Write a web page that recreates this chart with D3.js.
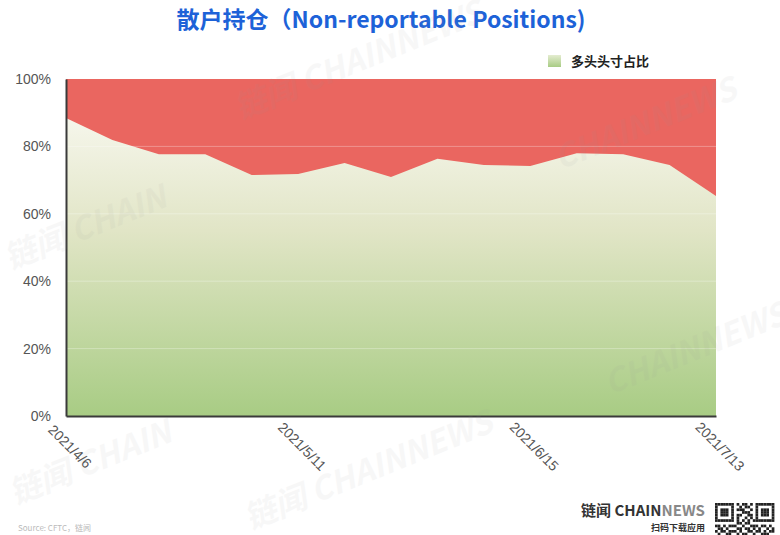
<!DOCTYPE html>
<html><head><meta charset="utf-8">
<script src="https://cdn.jsdelivr.net/npm/d3@7"></script>
<style>
html,body{margin:0;padding:0;background:#fff;}
svg{display:block;font-family:"Noto Sans CJK SC","Noto Sans",Arial,sans-serif;}
</style></head>
<body><svg id="c" width="780" height="535"></svg>
<script>
const dates = ["2021/4/6","2021/4/13","2021/4/20","2021/4/27","2021/5/4","2021/5/11","2021/5/18","2021/5/25","2021/6/1","2021/6/8","2021/6/15","2021/6/22","2021/6/29","2021/7/6","2021/7/13"];
const longShare = [88.4, 81.9, 77.7, 77.7, 71.5, 71.8, 75.1, 70.9, 76.3, 74.5, 74.2, 78.0, 77.7, 74.5, 65.3];
const shownDates = ["2021/4/6","2021/5/11","2021/6/15","2021/7/13"];
const yTicks = [0, 20, 40, 60, 80, 100];
const title = "散户持仓（Non-reportable Positions)";
const legendLabel = "多头头寸占比";

const svg = d3.select("#c");
const m = {l:66, r:716, t:79, b:416};
const x = d3.scalePoint().domain(dates).range([m.l, m.r]);
const y = d3.scaleLinear().domain([0,100]).range([m.b, m.t]);

const defs = svg.append("defs");
const g1 = defs.append("linearGradient").attr("id","gG").attr("gradientUnits","userSpaceOnUse")
  .attr("x1",0).attr("x2",0).attr("y1",y(100)).attr("y2",y(0));
g1.append("stop").attr("offset","0%").attr("stop-color","#fdfcf8");
g1.append("stop").attr("offset","45%").attr("stop-color","#e1e5c6");
g1.append("stop").attr("offset","100%").attr("stop-color","#a8cc84");
const g2 = defs.append("linearGradient").attr("id","gL").attr("x1",0).attr("x2",0).attr("y1",0).attr("y2",1);
g2.append("stop").attr("offset","0%").attr("stop-color","#e4ecd0");
g2.append("stop").attr("offset","100%").attr("stop-color","#a8cc84");

// red background (short share)
svg.append("path")
  .attr("d", d3.area().x(d=>x(d)).y0(y(0)).y1(y(100))(dates))
  .attr("fill","#ea6660");

// green area (long share)
svg.append("path")
  .attr("d", d3.area().x((d,i)=>x(dates[i])).y0(y(0)).y1(d=>y(d))(longShare))
  .attr("fill","url(#gG)");

// gridlines
svg.append("g").selectAll("line").data(yTicks.filter(t=>t>0&&t<100)).join("line")
  .attr("x1",m.l).attr("x2",m.r).attr("y1",d=>y(d)).attr("y2",d=>y(d))
  .attr("stroke","#fff").attr("stroke-opacity",0.3).attr("stroke-width",1);

// axes
const ya = svg.append("g").attr("transform",`translate(${m.l},0)`)
  .call(d3.axisLeft(y).tickValues(yTicks).tickFormat(d=>d+"%").tickSize(0).tickPadding(15));
ya.select(".domain").attr("stroke","#3a3a3a").attr("stroke-width",2);
ya.selectAll("text").attr("font-size",14).attr("fill","#555").attr("font-family","Liberation Sans, Arial, sans-serif");

const xa = svg.append("g").attr("transform",`translate(0,${m.b})`)
  .call(d3.axisBottom(x).tickValues(shownDates).tickSize(0).tickPadding(0));
xa.select(".domain").attr("stroke","#3a3a3a").attr("stroke-width",2);
xa.selectAll("text")
  .attr("font-size",14).attr("fill","#555").attr("font-family","Liberation Sans, Arial, sans-serif")
  .attr("text-anchor","middle").attr("dy",0).attr("y",0)
  .attr("transform","translate(0,34) rotate(45)");

// title
svg.append("text").attr("x",381).attr("y",28).attr("text-anchor","middle")
  .attr("font-size",23).attr("font-weight","bold").attr("fill","#1d62d8").text(title);

// legend
svg.append("rect").attr("x",548).attr("y",55).attr("width",13).attr("height",12).attr("fill","url(#gL)");
svg.append("text").attr("x",571).attr("y",66).attr("font-size",13).attr("font-weight","bold").attr("fill","#222").text(legendLabel);

// source text (faint, at the bottom edge)
svg.append("text").attr("x",18).attr("y",531).attr("font-size",8).attr("fill","#bbb").text("Source:          CFTC，链闻");

// logo
const logo = svg.append("text").attr("x",705).attr("y",516).attr("text-anchor","end").attr("font-size",15).attr("font-weight","bold");
logo.append("tspan").attr("fill","#333").text("链闻 CHAIN");
logo.append("tspan").attr("fill","#888").text("NEWS");
svg.append("text").attr("x",705).attr("y",531).attr("text-anchor","end").attr("font-size",9).attr("font-weight","bold").attr("fill","#333").text("扫码下载应用");

// QR-like decoration
const qrBits = [
"1111111010110101111111",
"1000001001011001000001",
"1011101011100101011101",
"1011101000111001011101",
"1011101011001101011101",
"1000001010010101000001",
"1111111010101011111111",
"0000000011011000000000",
"1101011100100111011010",
"0110100011011010100101",
"1011011101001101101011",
"0100110010110010011100",
"1110001101010111100101",
"0001101010001000110010"];
const qr = svg.append("g").attr("transform","translate(715,503)");
qrBits.forEach((row,r)=>row.split("").forEach((b,c)=>{ if(b==="1") qr.append("rect").attr("x",c*2.7).attr("y",r*2.7).attr("width",2.7).attr("height",2.7).attr("fill","#222"); }));

// watermarks, very faint, as in the reference
const wm = [[240,120,"链闻 CHAINNEWS"],[10,270,"链闻 CHAIN"],[250,530,"链闻 CHAINNEWS"],[15,505,"链闻 CHAIN"],[560,170,"CHAINNEWS"],[610,395,"CHAINNEWS"]];
svg.append("g").attr("pointer-events","none").selectAll("text").data(wm).join("text")
  .attr("transform", d=>`translate(${d[0]},${d[1]}) rotate(-22)`)
  .attr("font-size",32).attr("font-weight","bold").attr("font-style","italic")
  .attr("fill","#999").attr("opacity",0.07).text(d=>d[2]);
</script></body></html>
